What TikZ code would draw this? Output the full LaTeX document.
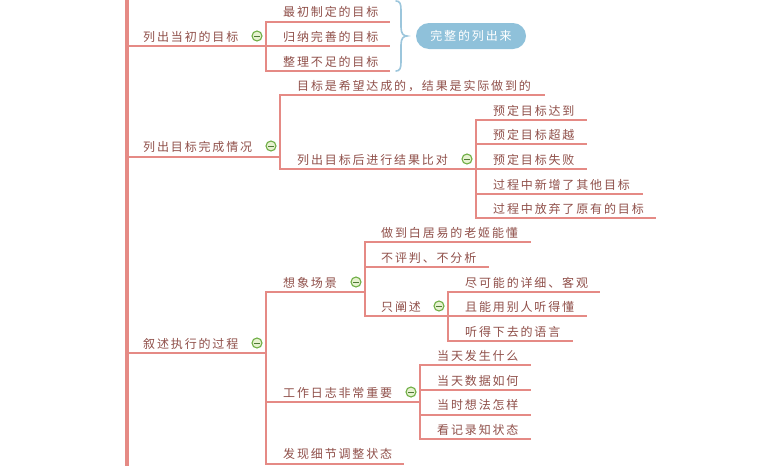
\documentclass[tikz,border=0pt]{standalone}
\usepackage{fontspec}
\setmainfont{Noto Sans CJK SC}[LetterSpace=15.5]
\definecolor{linec}{HTML}{E58A85}
\definecolor{txtc}{HTML}{8F4F49}
\definecolor{bubc}{HTML}{8FC1DA}
\definecolor{bracec}{HTML}{9CC6DC}
\definecolor{icong}{HTML}{6FAE45}
\definecolor{iconf}{HTML}{E6F2D0}
\definecolor{iconm}{HTML}{4F7A35}
\tikzset{
  x=1pt,y=-1pt,
  label text/.style={anchor=west,inner sep=0pt,yshift=-0.8pt,text=txtc,font=\fontsize{12}{13}\selectfont},
  wire/.style={draw=linec,line width=2.2pt,line cap=rect},
  trunk/.style={draw=linec,line width=3.6pt},
  collapse/.style={circle,draw=icong,line width=1.1pt,fill=iconf,minimum size=10pt,inner sep=0pt,
    path picture={\draw[draw=iconm,line width=0.9pt] ([xshift=-3pt]path picture bounding box.center) -- ([xshift=3pt]path picture bounding box.center);}},
  bubble/.style={rounded corners=13pt,fill=bubc,text=white,inner sep=0pt,minimum width=110pt,minimum height=26pt,font=\fontsize{12}{13}\selectfont},
}
% \topic{name}{line start x}{line end x}{line y}{text x}{text y}{text}
\newcommand{\topic}[7]{%
  \coordinate (#1-l) at (#2,#4);
  \coordinate (#1-r) at (#3,#4);
  \node[label text] (#1) at (#5,#6) {#7};
  \draw[wire] (#1-l) -- ([xshift=-1pt]#1-r);
}
\newcommand{\bus}[2]{\draw[wire] (#1-l) -- (#2-l);}
\begin{document}
\begin{tikzpicture}
\useasboundingbox (0,0) rectangle (760,466);
\coordinate (top) at (127,0);
\coordinate (bot) at (127,466);
\draw[trunk] (top) -- (bot);
% branch 1
\topic{a}{127}{266}{46}{143}{36}{列出当初的目标}
\topic{a1}{266}{390}{22}{283}{11}{最初制定的目标}
\topic{a2}{266}{390}{46}{283}{36}{归纳完善的目标}
\topic{a3}{266}{390}{71}{283}{61}{整理不足的目标}
\bus{a1}{a3}
\node[collapse] (ai) at (257,36) {};
\node[bubble] (sum) at (471,36) {完整的列出来};
\coordinate (bt) at (396,1);
\coordinate (bb) at (396,71);
\draw[draw=bracec,line width=1.6pt,line cap=round] (bt) .. controls (400,1) and (401,4) .. (401,10) -- (401,27) .. controls (401,33) and (403,36) .. (407,36) .. controls (403,36) and (401,39) .. (401,45) -- (401,62) .. controls (401,68) and (400,71) .. (bb);
% branch 2
\topic{b}{127}{280}{157}{143}{146}{列出目标完成情况}
\node[collapse] (bi) at (271,146) {};
\topic{b1}{280}{545}{95}{297}{85}{目标是希望达成的，结果是实际做到的}
\topic{b2}{280}{476}{169}{297}{159}{列出目标后进行结果比对}
\bus{b1}{b2}
\node[collapse] (bj) at (467,159) {};
\topic{c1}{476}{587}{120}{493}{110}{预定目标达到}
\topic{c2}{476}{587}{144}{493}{134}{预定目标超越}
\topic{c3}{476}{587}{169}{493}{159}{预定目标失败}
\topic{c4}{476}{643}{194}{493}{184}{过程中新增了其他目标}
\topic{c5}{476}{656}{218}{493}{208}{过程中放弃了原有的目标}
\bus{c1}{c5}
% branch 3
\topic{d}{127}{266}{353}{143}{343}{叙述执行的过程}
\node[collapse] (di) at (257,343) {};
\topic{e}{266}{365}{292}{283}{282}{想象场景}
\node[collapse] (ei) at (356,282) {};
\topic{f}{266}{420}{402}{283}{392}{工作日志非常重要}
\node[collapse] (fi) at (411,392) {};
\topic{g}{266}{404}{464}{283}{453}{发现细节调整状态}
\bus{e}{g}
\topic{e1}{365}{531}{242}{381}{232}{做到白居易的老姬能懂}
\topic{e2}{365}{489}{267}{381}{257}{不评判、不分析}
\topic{e3}{365}{448}{316}{381}{306}{只阐述}
\bus{e1}{e3}
\node[collapse] (e3i) at (439,306) {};
\topic{h1}{448}{600}{292}{465}{282}{尽可能的详细、客观}
\topic{h2}{448}{587}{316}{465}{306}{且能用别人听得懂}
\topic{h3}{448}{573}{341}{465}{331}{听得下去的语言}
\bus{h1}{h3}
\topic{f1}{420}{531}{365}{437}{355}{当天发生什么}
\topic{f2}{420}{531}{390}{437}{380}{当天数据如何}
\topic{f3}{420}{531}{415}{437}{404}{当时想法怎样}
\topic{f4}{420}{531}{439}{437}{429}{看记录知状态}
\bus{f1}{f4}
\end{tikzpicture}
\end{document}
